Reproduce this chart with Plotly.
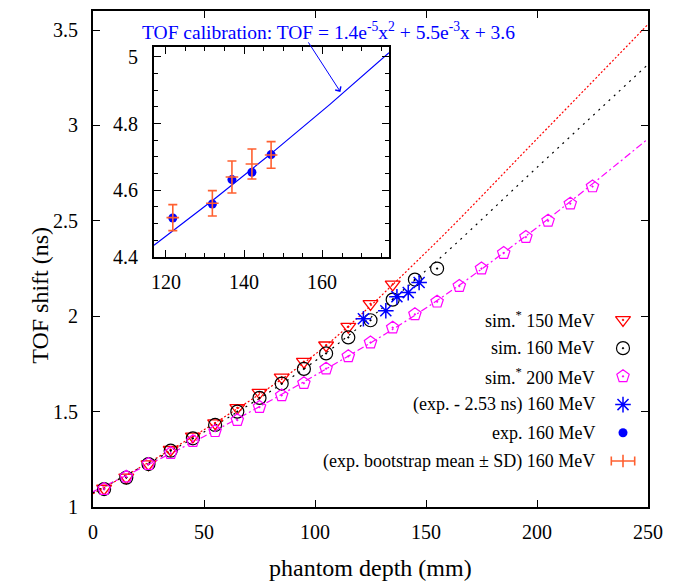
import numpy as np
import plotly.graph_objects as go

# ---------------- data ----------------
depth_150 = [5, 15, 25, 35, 45, 55, 65, 75, 85, 95, 105, 115, 125, 135]
tof_150 = [1.097, 1.155, 1.225, 1.300, 1.370, 1.440, 1.520, 1.600, 1.680,
           1.762, 1.848, 1.945, 2.065, 2.167]

depth_160 = [5, 15, 25, 35, 45, 55, 65, 75, 85, 95, 105, 115, 125, 135, 145, 155]
tof_160 = [1.094, 1.154, 1.225, 1.295, 1.360, 1.430, 1.500, 1.572, 1.647,
           1.724, 1.805, 1.889, 1.979, 2.087, 2.192, 2.250]

depth_200 = [5, 15, 25, 35, 45, 55, 65, 75, 85, 95, 105, 115, 125, 135, 145,
             155, 165, 175, 185, 195, 205, 215, 225]
tof_200 = [1.094, 1.159, 1.225, 1.282, 1.345, 1.397, 1.455, 1.524, 1.585,
           1.649, 1.725, 1.790, 1.862, 1.940, 2.010, 2.076, 2.158, 2.250,
           2.331, 2.415, 2.500, 2.590, 2.680]

# fitted curves
fit_depth = [0, 50, 100, 150, 200, 250]
fit_150 = [1.070, 1.405, 1.800, 2.335, 2.930, 3.530]
fit_160 = [1.075, 1.393, 1.765, 2.240, 2.780, 3.320]
fit_200 = [1.080, 1.370, 1.690, 2.043, 2.465, 2.930]

# experiment 160 MeV
exp_depth = [121.8, 131.9, 136.9, 142.0, 146.9]
exp_tof = [4.517, 4.559, 4.632, 4.654, 4.707]
boot_mean = [4.518, 4.561, 4.640, 4.679, 4.706]
boot_sd = [0.039, 0.038, 0.048, 0.045, 0.040]
tof_offset = 2.53

# calibration TOF = a x^2 + b x + c
calib_a, calib_b, calib_c = 1.4e-5, 5.5e-3, 3.6

# tick labels
main_xticks = [0, 50, 100, 150, 200, 250]
main_yticks = [1, 1.5, 2, 2.5, 3, 3.5]
inset_xticks = [120, 140, 160]
inset_yticks = [4.4, 4.6, 4.8, 5.0]

legend_names = ["sim.<sup>*</sup> 150 MeV", "sim. 160 MeV", "sim.<sup>*</sup> 200 MeV",
                "(exp. - 2.53 ns) 160 MeV", "exp. 160 MeV",
                "(exp. bootstrap mean ± SD) 160 MeV"]

# ---------------- styles ----------------
RED, BLACK, MAG, BLUE, ORANGE = "#ff0000", "#000000", "#ff00ff", "#0000ff", "#ff6030"
FONT = "Liberation Serif"

W, H = 682, 585
L, R, T, B = 93, 34, 9, 78
PW, PH = W - L - R, H - T - B


def px2paper_x(px):
    return (px - L) / PW


def px2paper_y(py):
    return (H - B - py) / PH


def fmt(v):
    return ("%g" % v)


fig = go.Figure()

# main fit lines
fig.add_trace(go.Scatter(x=fit_depth, y=fit_150, mode="lines", line_shape="spline",
                         line=dict(color=RED, width=1.2, dash="2px,2px"), hoverinfo="skip"))
fig.add_trace(go.Scatter(x=fit_depth, y=fit_160, mode="lines", line_shape="spline",
                         line=dict(color=BLACK, width=1.2, dash="2px,5px"), hoverinfo="skip"))
fig.add_trace(go.Scatter(x=fit_depth, y=fit_200, mode="lines", line_shape="spline",
                         line=dict(color=MAG, width=1.2, dash="7px,3px,2px,3px"), hoverinfo="skip"))

# sim markers
sym = {}
sym["150"] = dict(symbol="triangle-down-open-dot", size=13, color=RED, line=dict(color=RED, width=1.3))
sym["160"] = dict(symbol="circle-open-dot", size=13, color=BLACK, line=dict(color=BLACK, width=1.2))
sym["200"] = dict(symbol="pentagon-open-dot", size=13, color=MAG, line=dict(color=MAG, width=1.2))
sym["star"] = dict(symbol="asterisk-open", size=13, color=BLUE, line=dict(color=BLUE, width=1.5))
sym["dot"] = dict(symbol="circle", size=9, color=BLUE, line=dict(width=0))

fig.add_trace(go.Scatter(x=depth_150, y=tof_150, mode="markers", marker=sym["150"]))
fig.add_trace(go.Scatter(x=depth_160, y=tof_160, mode="markers", marker=sym["160"]))
fig.add_trace(go.Scatter(x=depth_200, y=tof_200, mode="markers", marker=sym["200"]))
fig.add_trace(go.Scatter(x=exp_depth, y=[v - tof_offset for v in exp_tof], mode="markers",
                         marker=sym["star"]))

# inset
cx = np.linspace(117, 177, 121)
cy = calib_a * cx ** 2 + calib_b * cx + calib_c
fig.add_trace(go.Scatter(x=cx, y=cy, mode="lines", line=dict(color=BLUE, width=1.2),
                         xaxis="x2", yaxis="y2", hoverinfo="skip"))
fig.add_trace(go.Scatter(x=exp_depth, y=exp_tof, mode="markers", marker=sym["dot"],
                         xaxis="x2", yaxis="y2"))
fig.add_trace(go.Scatter(x=exp_depth, y=boot_mean, mode="markers",
                         marker=dict(symbol="line-ew-open", size=9, color=ORANGE,
                                     line=dict(color=ORANGE, width=1.6)),
                         error_y=dict(type="data", array=boot_sd, color=ORANGE, thickness=1.6, width=4.5),
                         xaxis="x2", yaxis="y2"))

# custom legend: symbols on an auxiliary axis, row index as y
rows = list(range(len(legend_names)))
leg_markers = [sym["150"], sym["160"], sym["200"], sym["star"], sym["dot"]]
for i, m in enumerate(leg_markers):
    fig.add_trace(go.Scatter(x=[0], y=[rows[i]], mode="markers", marker=m,
                             xaxis="x3", yaxis="y3", hoverinfo="skip"))
fig.add_trace(go.Scatter(x=[0], y=[rows[5]], mode="markers",
                         marker=dict(symbol="line-ns-open", size=9, color=ORANGE,
                                     line=dict(color=ORANGE, width=1.6)),
                         error_x=dict(type="data", array=[0.9], color=ORANGE, thickness=1.6, width=4.5),
                         xaxis="x3", yaxis="y3", hoverinfo="skip"))

TXT = dict(family=FONT, size=20, color="black")
annotations = []
for i, name in enumerate(legend_names):
    annotations.append(dict(x=px2paper_x(597), xref="paper", y=rows[i], yref="y3",
                            xanchor="right", yanchor="middle", text=name, showarrow=False,
                            font=dict(family=FONT, size=18, color="black")))

# tick labels as text (serif)
for v in main_xticks:
    annotations.append(dict(x=v, xref="x", y=0, yref="paper", yanchor="top", xanchor="center",
                            yshift=-12, text=fmt(v), showarrow=False, font=TXT))
for v in main_yticks:
    annotations.append(dict(x=0, xref="paper", y=v, yref="y", xanchor="right", yanchor="middle",
                            xshift=-13, text=fmt(v), showarrow=False, font=TXT))
for v in inset_xticks:
    annotations.append(dict(x=v, xref="x2", y=0, yref="y2 domain", yanchor="top", xanchor="center",
                            yshift=-12, text=fmt(v), showarrow=False, font=TXT))
for v in inset_yticks:
    annotations.append(dict(x=0, xref="x2 domain", y=v, yref="y2", xanchor="right", yanchor="middle",
                            xshift=-14, text=fmt(v), showarrow=False, font=TXT))

# axis titles
annotations.append(dict(x=0.5, xref="paper", y=px2paper_y(568), yref="paper",
                        text="phantom depth (mm)", showarrow=False, xanchor="center", yanchor="middle",
                        font=dict(family=FONT, size=24, color="black")))
annotations.append(dict(x=px2paper_x(40), xref="paper", y=px2paper_y(295), yref="paper",
                        text="TOF shift (ns)", textangle=-90, showarrow=False,
                        xanchor="center", yanchor="middle",
                        font=dict(family=FONT, size=24, color="black")))

# calibration label + arrow
annotations.append(dict(x=px2paper_x(328), xref="paper", y=px2paper_y(29), yref="paper",
                        text="TOF calibration: TOF = 1.4e<sup>-5</sup>x<sup>2</sup> + 5.5e<sup>-3</sup>x + 3.6",
                        showarrow=False, xanchor="center", yanchor="middle",
                        font=dict(family=FONT, size=19.5, color=BLUE)))
annotations.append(dict(x=164.6, y=4.895, xref="x2", yref="y2", text="", showarrow=True,
                        ax=-33, ay=-51, axref="pixel", ayref="pixel",
                        arrowhead=4, arrowsize=1.3, arrowwidth=1, arrowcolor=BLUE))

axis_common = dict(showline=True, linecolor="black", linewidth=2, mirror="allticks",
                   ticks="inside", tickcolor="black", showgrid=False, zeroline=False,
                   showticklabels=False)

fig.update_layout(
    width=W, height=H, margin=dict(l=L, r=R, t=T, b=B),
    font=dict(family=FONT, size=20, color="black"),
    paper_bgcolor="white", plot_bgcolor="white", showlegend=False,
    xaxis=dict(range=[0, 250], tickvals=main_xticks, ticklen=7, domain=[0, 1], **axis_common),
    yaxis=dict(range=[1, 3.6], tickvals=main_yticks, ticklen=7, domain=[0, 1], **axis_common),
    xaxis2=dict(range=[117, 177], tickvals=inset_xticks, ticklen=7,
                domain=[px2paper_x(154), px2paper_x(389)], anchor="y2",
                minor=dict(dtick=5, tick0=0, ticks="inside", ticklen=4, tickcolor="black"),
                **axis_common),
    yaxis2=dict(range=[4.4, 5.03], tickvals=inset_yticks,
                ticklen=7, domain=[px2paper_y(256), px2paper_y(45)], anchor="x2",
                minor=dict(dtick=0.05, tick0=0, ticks="inside", ticklen=4, tickcolor="black"),
                **axis_common),
    xaxis3=dict(range=[-1, 1], domain=[px2paper_x(610), px2paper_x(636)], anchor="y3",
                visible=False),
    yaxis3=dict(range=[5.5, -0.5], domain=[px2paper_y(475), px2paper_y(305)], anchor="x3",
                visible=False),
    annotations=annotations,
)

fig.write_html("out.html")
